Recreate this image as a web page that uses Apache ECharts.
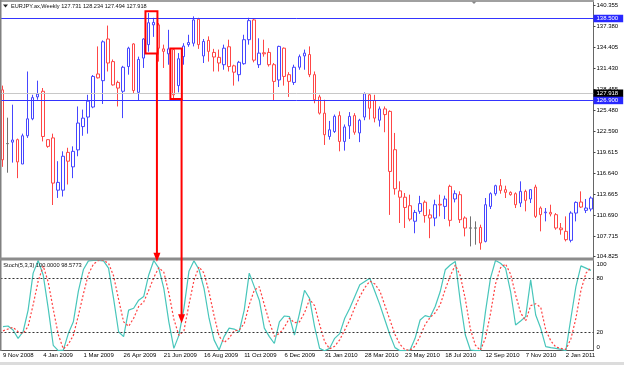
<!DOCTYPE html>
<html><head><meta charset="utf-8">
<script src="https://cdn.jsdelivr.net/npm/echarts@6/dist/echarts.min.js"></script>
<style>html,body{margin:0;padding:0;background:#fff}#c{width:624px;height:365px}</style>
</head><body><div id="c"></div>
<script>
const opens  = [128.4,120.8,121.0,121.35,117.9,121.9,124.3,127.4,128.2,121.35,121.6,114.2,114.2,119.55,117.5,119.9,123.2,124.55,125.97,130.65,129.7,135.6,132.4,129.45,128.2,131.7,134.9,128.05,132.9,134.8,137.6,137.6,134.2,133.5,134.1,129.0,133.1,134.8,135.0,138.4,133.2,135.4,133.7,133.0,131.96,134.5,131.8,130.55,132.1,135.5,138.3,131.96,133.65,133.7,131.96,129.8,134.3,130.55,129.45,131.6,133.2,133.4,130.55,127.4,125.1,121.8,122.5,124.75,121.1,123.3,124.75,122.3,124.55,127.7,126.9,124.1,125.7,125.35,119.93,114.1,113.2,112.0,109.8,111.2,112.5,110.7,110.25,112.2,111.9,114.74,112.95,113.56,110.26,108.86,108.86,108.93,106.95,111.9,113.7,114.83,114.27,113.89,113.7,112.38,114.03,112.95,114.64,111.67,111.0,111.06,110.73,108.84,108.37,107.1,110.96,112.52,111.34,111.53];
const closes = [118.5,120.78,121.3,118.2,121.9,124.3,127.3,127.8,121.8,120.4,115.2,115.3,119.0,118.3,119.7,123.7,124.4,126.8,130.3,130.1,135.2,132.2,129.1,128.65,131.6,134.3,128.3,132.7,135.6,137.9,137.95,134.3,133.85,134.2,127.7,132.8,134.6,135.1,138.3,134.8,135.25,133.85,133.05,132.2,134.3,131.7,130.9,132.3,135.5,138.2,132.6,133.6,133.5,131.96,129.6,134.55,130.3,129.6,131.6,133.1,133.6,130.55,127.0,125.1,122.05,122.75,124.65,121.1,123.15,124.65,122.4,124.1,127.85,125.8,124.4,125.7,124.9,116.85,114.4,113.2,111.75,110.1,111.05,112.3,110.6,110.25,112.14,112.1,112.95,109.93,113.7,110.02,108.84,108.82,108.82,106.72,112.14,113.7,114.83,114.17,113.89,113.56,112.14,114.03,112.76,114.27,110.49,110.73,111.1,110.82,108.84,108.6,107.19,110.96,112.47,111.81,111.67,113.09];
const lows   = [117.5,116.67,118.1,115.9,117.9,121.6,124.1,127.0,121.1,120.2,112.1,113.1,113.3,115.0,115.9,119.0,121.9,122.2,125.8,130.0,126.4,131.0,129.0,126.05,124.4,130.55,127.95,126.9,131.5,133.8,135.9,132.4,131.5,131.96,127.0,128.05,131.96,134.5,134.55,134.2,132.2,132.4,131.0,131.0,131.25,131.0,129.0,129.6,131.96,134.8,132.3,131.5,133.1,131.7,126.9,128.8,129.0,127.4,129.1,131.25,131.25,130.2,126.5,124.9,120.6,121.35,122.3,119.7,119.8,121.45,122.05,121.0,124.1,124.2,123.8,123.2,122.4,110.7,113.56,109.55,108.85,109.8,108.1,110.85,109.6,107.4,109.1,110.49,110.11,109.07,112.47,109.55,107.66,106.24,106.48,105.77,106.81,111.53,113.42,113.7,113.09,113.42,111.67,111.81,111.2,112.38,110.26,108.37,109.78,110.49,108.6,107.9,106.95,106.81,109.78,111.67,110.96,111.2];
const highs  = [129.0,124.46,126.3,121.5,122.2,131.0,127.7,129.7,128.66,121.4,122.2,118.3,119.7,120.2,120.4,126.05,125.6,127.7,130.5,134.55,135.4,137.5,132.7,129.7,131.8,134.5,135.0,133.1,135.7,139.3,138.6,137.85,134.8,136.9,134.2,133.6,135.0,136.2,138.8,138.6,135.6,135.97,134.2,134.1,134.8,135.5,131.96,132.5,136.2,138.6,138.5,135.7,135.5,134.3,132.2,134.65,134.4,130.9,131.96,133.4,134.1,134.55,131.0,127.7,127.0,124.0,124.9,125.35,123.5,125.25,125.1,124.3,128.04,127.95,127.7,126.05,126.05,125.5,122.3,115.45,113.8,113.56,111.4,113.4,112.75,111.5,112.85,113.56,113.42,114.97,114.17,114.03,110.49,110.49,109.78,109.31,113.09,113.89,114.97,115.78,114.83,114.03,113.89,115.45,114.27,114.36,114.97,111.9,111.67,112.14,110.96,109.55,110.49,111.2,112.61,114.03,112.95,113.32];
const stochK = [26.7,27.4,23,13.7,21,45,86,100,84,47,6,0,0.7,19,32,66,90,99.6,100,100,99.6,91.5,58,21,15.6,45,47,56,60,84,100,91.5,69,32,2.6,17,47,88,99.6,90,69,36,12,0.8,15.6,25,24,21,45,86,71,56,25,15.6,8,32,38.5,37.8,17.4,41.5,67,58,26.7,2.6,0,2.6,13.7,19,36,47,60,73,76.7,80.4,65.6,50.8,34,17.4,3.4,0,0,0.8,13.7,34,38.9,37.4,49,65.6,89.7,95,99,54.5,17.4,0.8,0,0,43,80.4,100,97,91.5,65.6,28.5,33,37.8,78.5,39.6,24.8,4.5,3.4,2.6,1.5,0,36,71,94,91.5,89];
const stochD = [22,24,26,21,19,27,51,77,94,76,46,18,2,7,17,39,63,85,96,100,100,97,83,57,32,27,36,49,54,67,81,92,87,64,35,17,22,51,78,93,86,65,39,16,9,14,22,23,30,51,67,71,51,32,16,19,26,36,31,32,42,57,50,29,10,2,5,12,23,34,48,60,70,77,74,66,50,34,18,7,1,0.5,5,16,29,37,42,51,68,83,95,83,57,24,6,0.5,14,41,74,92,96,85,62,42,33,50,52,48,23,11,4,2.5,1.5,13,36,67,86,92];
const priceTicks = [140.355,137.380,134.405,131.430,128.455,125.480,122.590,119.615,116.640,113.665,110.690,107.715,104.825];
const stochTicks = [0,20,80,100];
const stochLevels = [80,20];
const resistanceLevel = 138.5;
const supportLevel = 126.9;
const lastPrice = 127.918;
const headerText = 'EURJPY.ax,Weekly 127.731 128.234 127.494 127.918';
const stochText = 'Stoch(5,3,3) 100.0000 98.5773';
const box1 = [28.42, 30.8, 139.51, 133.55];
const box2 = [33.38, 35.65, 134.27, 127.12];
const arrow1 = [30.7, 133.55, 98.5];
const arrow2 = [35.6, 127.12, 30.4];

const months = ['Jan','Feb','Mar','Apr','May','Jun','Jul','Aug','Sep','Oct','Nov','Dec'];
const categories = opens.map((_, i) => {
  const d = new Date(Date.UTC(2008, 10, 9 + 7 * i));
  return d.getUTCDate() + ' ' + months[d.getUTCMonth()] + ' ' + d.getUTCFullYear();
});

const BLUE = '#4646ff', RED = '#ff4646', LEVEL_BLUE = '#3434ff';
const FONT = 'Liberation Sans';
const candleData = opens.map((o, i) => {
  const v = [o, closes[i], lows[i], highs[i]];
  if (Math.abs(o - closes[i]) < 0.05) {
    return { value: v, itemStyle: { borderColor: '#707070', borderColor0: '#707070' } };
  }
  return v;
});

const chart = echarts.init(document.getElementById('c'), null, { renderer: 'canvas' });
const priceLabel = (txt, bg) => ({
  show: true, position: 'end', distance: 0, formatter: txt, color: '#fff',
  backgroundColor: bg, fontSize: 6, fontFamily: FONT, padding: [1, 5, 0.5, 3]
});
chart.setOption({
  animation: false,
  backgroundColor: '#fff',
  grid: [
    { left: -1.5, right: 30.5, top: 1.7, height: 256 },
    { left: -1.5, right: 30.5, top: 260.5, height: 90.2 }
  ],
  xAxis: [
    { type: 'category', gridIndex: 0, data: categories, boundaryGap: true,
      axisLine: { show: false }, axisTick: { show: false }, axisLabel: { show: false }, splitLine: { show: false } },
    { type: 'category', gridIndex: 1, data: categories, boundaryGap: true,
      axisLine: { show: true, lineStyle: { color: '#555', width: 1 } },
      axisTick: { show: false },
      axisLabel: { show: true, interval: (idx) => idx % 8 === 0, align: 'left', fontSize: 6,
        fontFamily: FONT, color: '#000', margin: 2, verticalAlign: 'top' },
      splitLine: { show: false } }
  ],
  yAxis: [
    { type: 'value', gridIndex: 0, position: 'right', min: 104.64, max: 140.879,
      splitLine: { show: false },
      axisLine: { show: true, lineStyle: { color: '#666', width: 1 } },
      axisTick: { show: true, length: 2, customValues: priceTicks, lineStyle: { color: '#444' } },
      axisLabel: { customValues: priceTicks, formatter: (v) => v.toFixed(3), fontSize: 6,
        fontFamily: FONT, color: '#000', margin: 3 } },
    { type: 'value', gridIndex: 1, position: 'right', min: 0, max: 100,
      splitLine: { show: false },
      axisLine: { show: true, lineStyle: { color: '#666', width: 1 } },
      axisTick: { show: false },
      axisLabel: { customValues: stochTicks, fontSize: 6, fontFamily: FONT, color: '#000', margin: 3,
        formatter: (v) => v === 100 ? '{t|100}' : (v === 0 ? '{b|0}' : String(v)),
        rich: { t: { padding: [7, 0, 0, 0], fontSize: 6, fontFamily: FONT, color: '#000' },
                b: { padding: [0, 0, 7, 0], fontSize: 6, fontFamily: FONT, color: '#000' } } } }
  ],
  series: [
    { type: 'candlestick', xAxisIndex: 0, yAxisIndex: 0, data: candleData, barWidth: 3,
      itemStyle: { color: '#fff', color0: '#fff', borderColor: BLUE, borderColor0: RED, borderWidth: 1 },
      markLine: { silent: true, symbol: 'none', animation: false,
        data: [
          { yAxis: lastPrice, lineStyle: { color: '#c8c8c8', width: 1, type: 'solid' }, label: priceLabel('127.918', '#000') },
          { yAxis: resistanceLevel, lineStyle: { color: LEVEL_BLUE, width: 1, type: 'solid' }, label: priceLabel('138.500', '#2828ff') },
          { yAxis: supportLevel, lineStyle: { color: LEVEL_BLUE, width: 1, type: 'solid' }, label: priceLabel('126.900', '#2828ff') }
        ] } },
    { type: 'line', xAxisIndex: 1, yAxisIndex: 1, data: stochK, symbol: 'none',
      lineStyle: { color: '#48c6bb', width: 1.2 },
      markLine: { silent: true, symbol: 'none', animation: false, label: { show: false },
        lineStyle: { color: '#333', width: 1, type: [2, 2] },
        data: stochLevels.map(v => ({ yAxis: v })) } },
    { type: 'line', xAxisIndex: 1, yAxisIndex: 1, data: stochD, symbol: 'none',
      lineStyle: { color: '#ff4040', width: 1.2, type: [2, 2] } }
  ]
});

function px(idx) {
  const i0 = Math.floor(idx);
  const a = chart.convertToPixel({ xAxisIndex: 0 }, i0);
  const b = chart.convertToPixel({ xAxisIndex: 0 }, i0 + 1);
  return a + (b - a) * (idx - i0);
}
const py = (v) => chart.convertToPixel({ yAxisIndex: 0 }, v);
const sy = (v) => chart.convertToPixel({ yAxisIndex: 1 }, v);
function boxEl(b) {
  const x0 = px(b[0]), x1 = px(b[1]), y0 = py(b[2]), y1 = py(b[3]);
  return { type: 'rect', z: 200, silent: true, shape: { x: x0, y: y0, width: x1 - x0, height: y1 - y0 },
    style: { fill: null, stroke: '#ff0000', lineWidth: 2 } };
}
function arrowEls(a) {
  const x = px(a[0]), y0 = py(a[1]), tip = sy(a[2]);
  return [
    { type: 'line', z: 200, silent: true, shape: { x1: x, y1: y0, x2: x, y2: tip - 7 },
      style: { stroke: '#ff0000', lineWidth: 2 } },
    { type: 'polygon', z: 201, silent: true, shape: { points: [[x - 3.5, tip - 9], [x + 3.5, tip - 9], [x, tip]] },
      style: { fill: '#ff0000' } }
  ];
}
chart.setOption({
  graphic: [
    { type: 'rect', z: 150, silent: true, shape: { x: 0, y: 0, width: 594, height: 2 }, style: { fill: '#a0a0a0' } },
    { type: 'rect', z: 150, silent: true, shape: { x: 0, y: 0, width: 1.5, height: 351 }, style: { fill: '#808080' } },
    { type: 'rect', z: 150, silent: true, shape: { x: 0, y: 257.5, width: 594, height: 3 }, style: { fill: '#8c8c8c' } },
    { type: 'rect', z: 150, silent: true, shape: { x: 0, y: 362, width: 624, height: 3 }, style: { fill: '#dcdcdc' } },
    { type: 'polygon', z: 150, silent: true, shape: { points: [[3, 4.5], [8, 4.5], [5.5, 7.5]] }, style: { fill: '#222' } },
    { type: 'polygon', z: 150, silent: true, shape: { points: [[471.5, 1.5], [476.5, 1.5], [474, 4]] }, style: { fill: '#888' } },
    { type: 'text', z: 150, silent: true, style: { text: headerText, x: 11, y: 6.3, fill: '#111',
        font: '5.6px "Liberation Sans"', verticalAlign: 'middle', align: 'left' } },
    { type: 'text', z: 150, silent: true, style: { text: stochText, x: 3.3, y: 265, fill: '#111',
        font: '5.7px "Liberation Sans"', verticalAlign: 'middle', align: 'left' } },
    boxEl(box1), boxEl(box2),
    ...arrowEls(arrow1), ...arrowEls(arrow2)
  ]
});
</script>
</body></html>
